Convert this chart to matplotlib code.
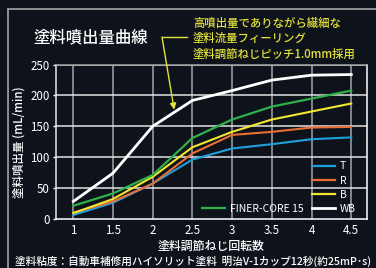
import matplotlib
matplotlib.use("Agg")
import matplotlib.pyplot as plt
from matplotlib.lines import Line2D

plt.rcParams['font.family'] = ['Noto Sans CJK JP', 'DejaVu Sans']

x = [1, 1.5, 2, 2.5, 3, 3.5, 4, 4.5]
T = [6, 26, 57, 96, 114, 121, 129, 132]
R = [10, 28, 57, 106, 136, 141, 148, 149]
B = [9, 32, 68, 116, 141, 161, 174, 187]
WB = [28, 74, 150, 192, 208, 225, 233, 234]
FC = [21, 41, 71, 131, 161, 182, 195, 208]

xticks = [1, 1.5, 2, 2.5, 3, 3.5, 4, 4.5]
xticklabels = ['1', '1.5', '2', '2.5', '3', '3.5', '4', '4.5']
yticks = [0, 50, 100, 150, 200, 250]

bg = '#0e131b'
c_T = '#1fa0dc'
c_R = '#ea6f35'
c_B = '#f2e630'
c_WB = '#ffffff'
c_FC = '#2fb04a'
yel = '#e4e23a'

W, H = 376, 268
fig = plt.figure(figsize=(W / 100, H / 100), dpi=100, facecolor=bg)

def fx(px):
    return px / W

def fy(py):
    return 1 - py / H

ax = fig.add_axes([fx(55.7), fy(218.7), fx(367) - fx(55.7), fy(64.7) - fy(218.7)])
ax.set_facecolor(bg)
ax.set_xlim(0.778, 4.698)
ax.set_ylim(0, 250)

for xv in xticks:
    ax.axvline(xv, color='#a5a5a5', lw=1.1, zorder=1)
for yv in yticks[1:]:
    ax.axhline(yv, color='#e2e2e2', lw=1.1, zorder=1)

ax.plot(x, T, color=c_T, lw=1.5, zorder=3)
ax.plot(x, R, color=c_R, lw=1.5, zorder=3)
ax.plot(x, B, color=c_B, lw=1.5, zorder=3)
ax.plot(x, FC, color=c_FC, lw=1.6, zorder=3)
ax.plot(x, WB, color=c_WB, lw=2.0, zorder=4)

ax.set_xticks(xticks)
ax.set_xticklabels(xticklabels)
ax.set_yticks(yticks)
ax.tick_params(axis='x', length=0, pad=4, colors='white', labelsize=8.3)
ax.tick_params(axis='y', length=2.5, width=1, pad=2, colors='white', labelsize=8.3)

ax.spines['top'].set_color('#a5a5a5')
ax.spines['left'].set_color('#e8e8e8')
ax.spines['right'].set_color('#ffffff')
ax.spines['bottom'].set_color('#ffffff')
for s in ax.spines.values():
    s.set_linewidth(1.1)

ax.set_xlabel('塗料調節ねじ回転数', color='white', fontsize=8.6, labelpad=2,
              fontweight='medium')
ax.set_ylabel('塗料噴出量 (mL/min)', color='white', fontsize=8.3, labelpad=3,
              fontweight='medium')

blank = Line2D([], [], color='none')
handles = [blank, blank, blank,
           Line2D([], [], color=c_FC, lw=1.6),
           Line2D([], [], color=c_T, lw=1.6),
           Line2D([], [], color=c_R, lw=1.6),
           Line2D([], [], color=c_B, lw=1.6),
           Line2D([], [], color=c_WB, lw=2.0)]
labels = [' ', ' ', ' ', 'FINER-CORE 15', 'T', 'R', 'B', 'WB']
leg = ax.legend(handles, labels, ncol=2, loc='lower right',
                bbox_to_anchor=(0.985, -0.01), frameon=False, fontsize=7.5,
                handlelength=2.2, handletextpad=0.5, columnspacing=0.8,
                labelspacing=0.4, borderaxespad=0.2)
for t in leg.get_texts():
    t.set_color('white')

# outer frame
fig.add_artist(Line2D([fx(8), fx(8)], [fy(9), 0], color='#9a9a9a', lw=1.3))
fig.add_artist(Line2D([fx(8), 1], [fy(9), fy(9)], color='#9a9a9a', lw=1.3))

fig.text(fx(33), fy(38), '塗料噴出量曲線', color='white', fontsize=11.8,
         ha='left', va='center', fontweight='medium')

for i, line in enumerate(['高噴出量でありながら繊細な', '塗料流量フィーリング',
                          '塗料調節ねじピッチ1.0mm採用']):
    fig.text(fx(193), fy(23 + 15.5 * i), line, color=yel, fontsize=8.2,
             ha='left', va='center', fontweight='medium')

fig.add_artist(Line2D([fx(162), fx(187)], [fy(37), fy(37)], color=yel, lw=1.0))
ax.annotate('', xy=(2.27, 177), xycoords='data',
            xytext=(fx(162), fy(37)), textcoords='figure fraction',
            arrowprops=dict(arrowstyle='-|>', color=yel, lw=1.0,
                            mutation_scale=9, shrinkA=0, shrinkB=0))

fig.text(fx(15), fy(261), '塗料粘度：自動車補修用ハイソリット塗料  明治V-1カップ12秒(約25mP･s)',
         color='white', fontsize=7.65, ha='left', va='center', fontweight='medium')

fig.savefig('out.png', dpi=100, facecolor=bg)
